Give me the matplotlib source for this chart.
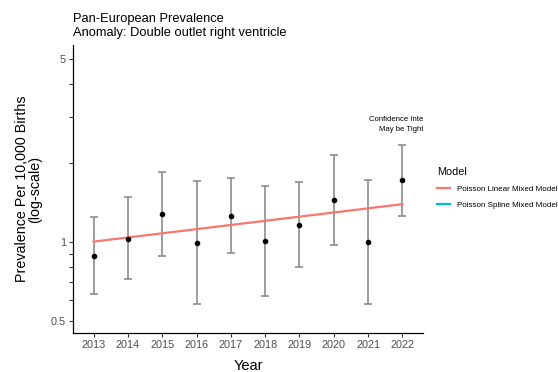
import matplotlib
matplotlib.use("Agg")
import matplotlib.pyplot as plt
from matplotlib.lines import Line2D
from matplotlib.ticker import FixedLocator, NullLocator

plt.rcParams['font.family'] = ['Liberation Sans', 'DejaVu Sans']

years = [2013, 2014, 2015, 2016, 2017, 2018, 2019, 2020, 2021, 2022]
prevalence = [0.884, 1.027, 1.279, 0.989, 1.257, 1.006, 1.161, 1.439, 0.995, 1.716]
ci_lower = [0.633, 0.719, 0.882, 0.578, 0.908, 0.622, 0.803, 0.969, 0.578, 1.257]
ci_upper = [1.239, 1.481, 1.850, 1.700, 1.750, 1.632, 1.685, 2.140, 1.716, 2.340]

fit_years = [2013, 2022]
fit_values = [1.00, 1.39]

y_ticks = [0.5, 0.6, 0.7, 0.8, 0.9, 1, 2, 3, 4, 5]
y_tick_labels = ["0.5", "", "", "", "", "1", "", "", "", "5"]

model_labels = ["Poisson Linear Mixed Model", "Poisson Spline Mixed Model"]
model_colors = ["#F8766D", "#00BFC4"]

fig = plt.figure(figsize=(5.58, 3.72), dpi=100)
ax = fig.add_axes([73 / 558, 1 - 333 / 372, 350 / 558, 288 / 372])

yerr = [[p - lo for p, lo in zip(prevalence, ci_lower)],
        [hi - p for p, hi in zip(prevalence, ci_upper)]]
ax.errorbar(years, prevalence, yerr=yerr, fmt='none', ecolor='#8c8c8c',
            elinewidth=1.2, capsize=2.6, capthick=1.2, zorder=2)
ax.plot(fit_years, fit_values, color=model_colors[0], lw=1.6, zorder=3)
ax.scatter(years, prevalence, s=9, color='black', zorder=4)

ax.set_yscale('log')
ax.set_ylim(0.448, 5.63)
ax.set_xlim(2012.4, 2022.6)
ax.yaxis.set_major_locator(FixedLocator(y_ticks))
ax.yaxis.set_minor_locator(NullLocator())
ax.set_yticklabels(y_tick_labels)
ax.set_xticks(years)
ax.set_xticklabels([str(y) for y in years])

for side in ('top', 'right'):
    ax.spines[side].set_visible(False)
for side in ('left', 'bottom'):
    ax.spines[side].set_linewidth(0.9)
ax.tick_params(axis='both', length=3, width=0.8, color='#333333',
               labelcolor='#4d4d4d', labelsize=7.8, pad=2)

ax.set_xlabel("Year", fontsize=10.5, labelpad=6.5)
ax.set_ylabel("Prevalence Per 10,000 Births\n(log-scale)", fontsize=10.3,
              labelpad=6, linespacing=1.0)

fig.text(73 / 558, 1 - 19 / 372, "Pan-European Prevalence",
         fontsize=9.3, va='center', ha='left')
fig.text(73 / 558, 1 - 33 / 372, "Anomaly: Double outlet right ventricle",
         fontsize=9.3, va='center', ha='left')

ax.text(2022.06, 2.81, "Confidence Intervals\nMay be Tighter", fontsize=5.6,
        ha='center', va='center', linespacing=1.6, clip_on=True)

handles = [Line2D([0], [0], color=c, lw=1.6) for c in model_colors]
leg = fig.legend(handles, model_labels, title="Model", loc='upper left',
                 bbox_to_anchor=(434 / 558, 1 - 164 / 372), frameon=False,
                 fontsize=5.8, title_fontsize=7.8, handlelength=1.6,
                 handletextpad=0.9, labelspacing=1.0, borderaxespad=0)
leg._legend_box.align = "left"

fig.savefig("out.png", dpi=100)
